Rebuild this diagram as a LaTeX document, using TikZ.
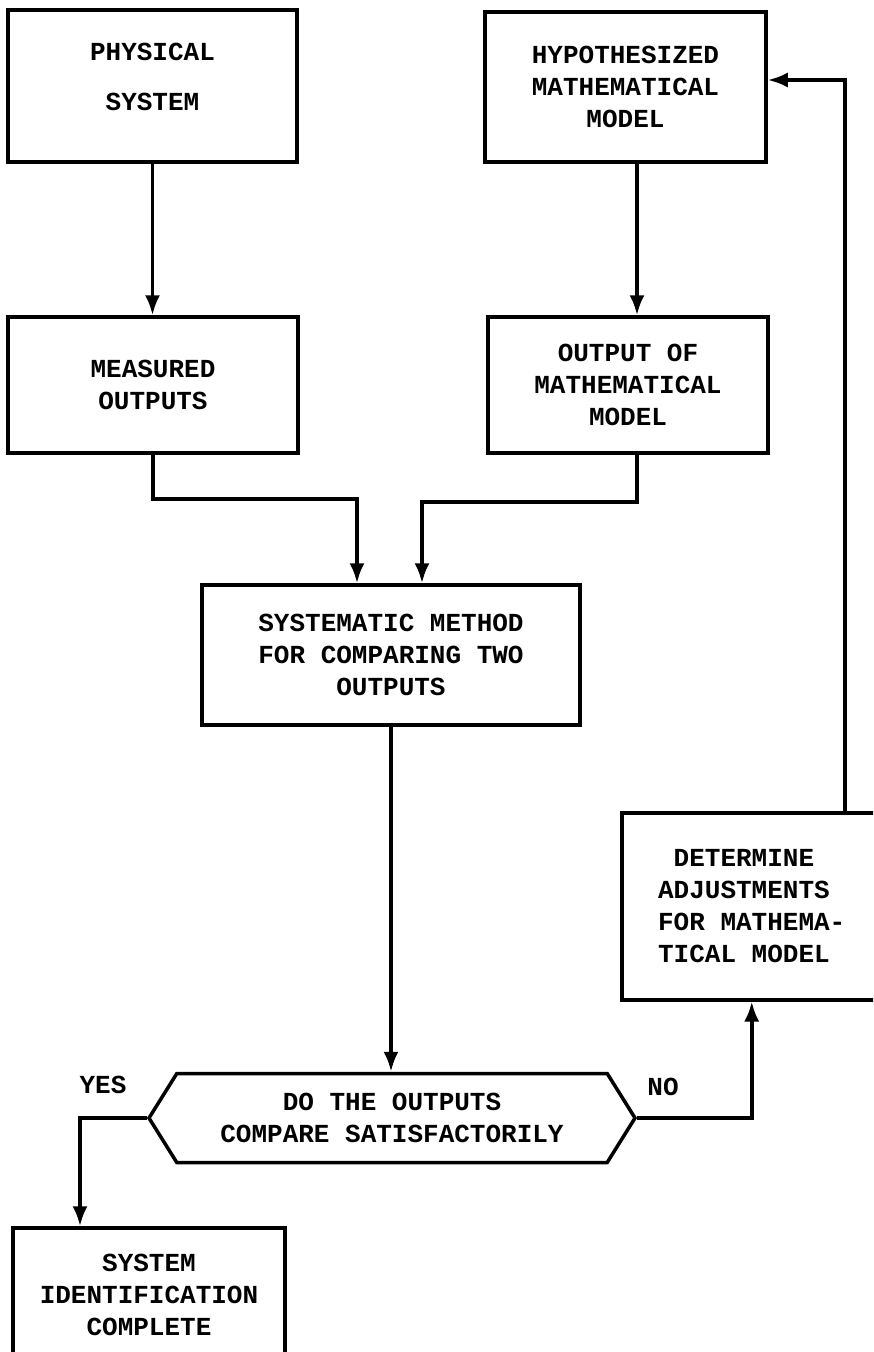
\documentclass[tikz,border=0pt]{standalone}
\usepackage{fontspec}
\setmonofont{Liberation Mono}
\usetikzlibrary{arrows.meta,shapes.symbols}
\tikzset{
  block/.style={draw, line width=3.5pt, align=center, inner sep=0pt,
    font=\ttfamily\bfseries\fontsize{26}{32}\selectfont},
  decision/.style={block, signal, signal to=east and west, signal pointer angle=116},
  flow/.style={line width=3.5pt, -{Latex[length=20pt,width=15pt]}},
  tag/.style={inner sep=0pt, font=\ttfamily\bfseries\fontsize{26}{32}\selectfont}
}

\begin{document}
\begin{tikzpicture}[x=1pt,y=1pt,yscale=-1,xscale=1]
\path[use as bounding box, clip] (0,0) rectangle (873,1352);
%Shape: Rectangle
\node (phys) [block, minimum width=289, minimum height=152] at (152.5,86) {PHYSICAL\\[18pt]SYSTEM\\[-14pt]\mbox{}};
%Shape: Rectangle
\node (hypo) [block, minimum width=281, minimum height=150] at (625.5,87) {HYPOTHESIZED\\MATHEMATICAL\\MODEL};
%Shape: Rectangle
\node (meas) [block, minimum width=290, minimum height=136] at (153,385) {MEASURED\\OUTPUTS};
%Shape: Rectangle
\node (outm) [block, minimum width=280, minimum height=136] at (628,385) {OUTPUT OF\\MATHEMATICAL\\MODEL};
%Shape: Rectangle
\node (syst) [block, minimum width=378, minimum height=140] at (391,655) {SYSTEMATIC METHOD\\FOR COMPARING TWO\\OUTPUTS};
%Shape: Rectangle
\node (adj) [block, anchor=north west, align=left, minimum width=260, minimum height=187] at (620,811) {\hspace*{0.6em}DETERMINE\\ADJUSTMENTS\\FOR MATHEMA-\\TICAL MODEL};
%Shape: Hexagon
\node (dec) [decision, minimum width=486, minimum height=89] at (392,1118) {DO THE OUTPUTS\\COMPARE SATISFACTORILY};
%Shape: Rectangle
\node (sysid) [block, minimum width=272, minimum height=134] at (149,1295) {SYSTEM\\IDENTIFICATION\\COMPLETE};

% Text Node
\node (yes) [tag] at (103,1085) {YES};
% Text Node
\node (no) [tag] at (663,1087) {NO};

% bends
\coordinate (jl) at (357,499);
\coordinate (jr) at (422,502);
\coordinate (cr) at (637,0);
\coordinate (yl) at (80,0);
\coordinate (ret) at (845,80);

%Straight Lines
\draw [flow] (phys.south) -- (phys.south |- meas.north);
\draw [flow] (hypo.south -| cr) -- (outm.north -| cr);
%Elbow Lines
\draw [flow] (meas.south) |- (jl) -- (jl |- syst.north);
\draw [flow] (outm.south -| cr) |- (jr) -- (jr |- syst.north);
%Straight Lines
\draw [flow] (syst.south) -- (syst.south |- dec.north);
%Elbow Lines
\draw [flow] (dec.west) -| (yl |- sysid.north);
\draw [flow] (dec.east) -| (adj.south);
\draw [flow] (adj.north -| ret) -- (ret) -- (hypo.east |- ret);
\end{tikzpicture}
\end{document}
